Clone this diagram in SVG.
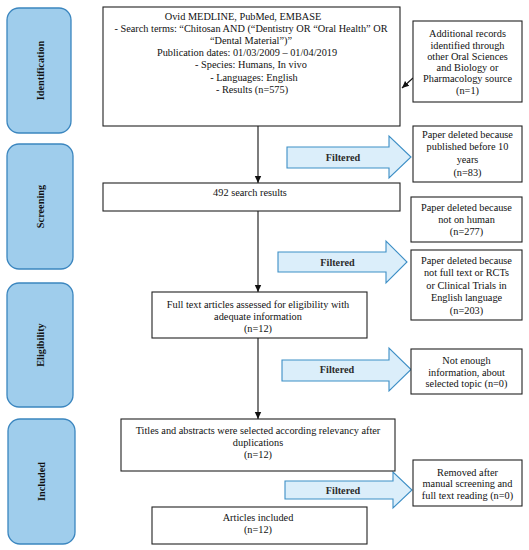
<svg xmlns="http://www.w3.org/2000/svg" width="529" height="550" viewBox="0 0 529 550">
<style>
text{font-family:"Liberation Serif","Times New Roman",serif;font-size:10.3px;fill:#111;text-anchor:middle}
.box{fill:#fff;stroke:#222;stroke-width:1.1}
.phase{fill:#9fcdec;stroke:#3b86bf;stroke-width:1.3}
.pl{font-weight:bold;font-size:10.3px}
.blk{fill:#dbeefa;stroke:#3d8fc6;stroke-width:1.1}
.ft{font-weight:bold;fill:#2b2b2b;font-size:10.2px}
.ln{stroke:#111;stroke-width:1.1;fill:none}
</style>
<defs>
<marker id="ah" markerWidth="8" markerHeight="8" refX="7" refY="4" orient="auto" markerUnits="userSpaceOnUse">
<path d="M0,0.8 L7,4 L0,7.2 Z" fill="#111"/>
</marker>
</defs>
<rect width="529" height="550" fill="#fff"/>

<g id="phase-identification"><rect class="phase" x="7" y="8" width="64" height="125" rx="12"/><text class="pl" transform="translate(43.5,70.5) rotate(-90)">Identification</text></g>
<g id="phase-screening"><rect class="phase" x="7" y="144" width="66" height="125" rx="12"/><text class="pl" transform="translate(44,206.5) rotate(-90)">Screening</text></g>
<g id="phase-eligibility"><rect class="phase" x="7" y="283" width="66" height="124" rx="12"/><text class="pl" transform="translate(44,345) rotate(-90)">Eligibility</text></g>
<g id="phase-included"><rect class="phase" x="8" y="419" width="67" height="125" rx="12"/><text class="pl" transform="translate(45,481.5) rotate(-90)">Included</text></g>

<g id="connectors">
<line class="ln" x1="258" y1="126" x2="258" y2="183" marker-end="url(#ah)"/>
<line class="ln" x1="258" y1="211" x2="258" y2="292" marker-end="url(#ah)"/>
<line class="ln" x1="258" y1="338" x2="258" y2="419" marker-end="url(#ah)"/>
<line class="ln" x1="413" y1="78" x2="402" y2="88" marker-end="url(#ah)"/>
<g id="filtered-1"><polygon class="blk" points="287,147 389,147 389,136 411,157 389,178 389,168 287,168"/><text class="ft" x="343" y="160.5">Filtered</text></g>
<g id="filtered-2"><polygon class="blk" points="278,252 386,252 386,241 407,262 386,283 386,272 278,272"/><text class="ft" x="337.5" y="265.5">Filtered</text></g>
<g id="filtered-3"><polygon class="blk" points="282,360 389,360 389,348 411,369.5 389,391 389,381 282,381"/><text class="ft" x="337" y="373">Filtered</text></g>
<g id="filtered-4"><polygon class="blk" points="285,481 393,481 393,472 412,490 393,508 393,499 285,499"/><text class="ft" x="343" y="493.5">Filtered</text></g>
</g>

<g id="search"><rect class="box" x="103" y="7" width="297" height="119"/>
<text x="243" y="19.5">Ovid MEDLINE, PubMed, EMBASE</text>
<text x="251" y="32">- Search terms: “Chitosan AND (“Dentistry OR “Oral Health” OR</text>
<text x="251" y="44">“Dental Material”)”</text>
<text x="247" y="56">Publication dates: 01/03/2009 – 01/04/2019</text>
<text x="251" y="68">- Species: Humans, In vivo</text>
<text x="254" y="80.5">- Languages: English</text>
<text x="252" y="93">- Results (n=575)</text>
</g>

<g id="additional"><rect class="box" x="413" y="21" width="109" height="81"/>
<text x="467.5" y="37">Additional records</text>
<text x="467.5" y="48.5">identified through</text>
<text x="467.5" y="59.5">other Oral Sciences</text>
<text x="467.5" y="70.5">and Biology or</text>
<text x="467.5" y="82">Pharmacology source</text>
<text x="467.5" y="93.5">(n=1)</text>
</g>

<g id="excl-date"><rect class="box" x="413" y="126" width="109" height="56"/>
<text x="467.5" y="137.5">Paper deleted because</text>
<text x="467.5" y="150">published before 10</text>
<text x="467.5" y="162.5">years</text>
<text x="467.5" y="175.5">(n=83)</text>
</g>

<g id="results492"><rect class="box" x="103" y="183" width="297" height="28"/>
<text x="250" y="196">492 search results</text>
</g>

<g id="excl-human"><rect class="box" x="411" y="197" width="111" height="45"/>
<text x="466.5" y="211">Paper deleted because</text>
<text x="466.5" y="223">not on human</text>
<text x="466.5" y="235">(n=277)</text>
</g>

<g id="excl-fulltext"><rect class="box" x="411" y="250" width="111" height="70"/>
<text x="466.5" y="264">Paper deleted because</text>
<text x="466.5" y="276">not full text or RCTs</text>
<text x="466.5" y="289">or Clinical Trials in</text>
<text x="466.5" y="301">English language</text>
<text x="466.5" y="314">(n=203)</text>
</g>

<g id="fulltext"><rect class="box" x="152" y="292" width="215" height="46"/>
<text x="258" y="308">Full text articles assessed for eligibility with</text>
<text x="258" y="320">adequate information</text>
<text x="258" y="332">(n=12)</text>
</g>

<g id="excl-info"><rect class="box" x="411" y="349" width="111" height="45"/>
<text x="466.5" y="364">Not enough</text>
<text x="466.5" y="375.5">information, about</text>
<text x="466.5" y="386.5">selected topic (n=0)</text>
</g>

<g id="titles"><rect class="box" x="121" y="419" width="274" height="52"/>
<text x="258" y="434">Titles and abstracts were selected according relevancy after</text>
<text x="258" y="446">duplications</text>
<text x="258" y="458">(n=12)</text>
</g>

<g id="excl-manual"><rect class="box" x="413" y="460" width="109" height="46"/>
<text x="467.5" y="475.5">Removed after</text>
<text x="467.5" y="487">manual screening and</text>
<text x="467.5" y="498.5">full text reading (n=0)</text>
</g>

<g id="included"><rect class="box" x="152" y="507" width="215" height="37"/>
<text x="258" y="521">Articles included</text>
<text x="258" y="533">(n=12)</text>
</g>
</svg>
